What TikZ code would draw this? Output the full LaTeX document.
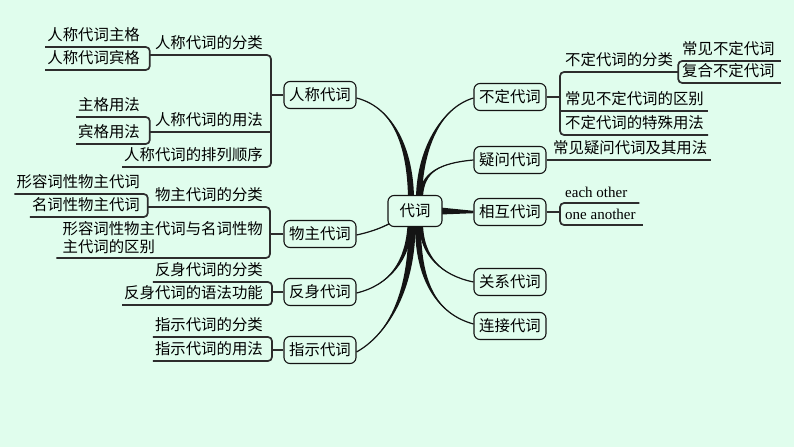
\documentclass[tikz,border=0pt]{standalone}
\usepackage{fontspec}
\setmainfont{Liberation Serif}
\newfontfamily\cjk{Noto Sans CJK SC}
\usetikzlibrary{calc}
\definecolor{bgc}{RGB}{224,253,237}
\definecolor{linec}{RGB}{20,20,20}
\definecolor{brc}{RGB}{45,45,45}
\pgfdeclarelayer{back}\pgfdeclarelayer{mid}\pgfsetlayers{back,mid,main}
\newcommand\tcurve[5]{%
  \fill[linec] #1 .. controls #2 and ($#3+#5$) .. ($#4+#5$) -- ($#4-#5$) .. controls ($#3-#5$) and #2 .. #1 -- cycle;
  \draw[linec, line width=1.2pt] #1 .. controls #2 and #3 .. #4;
}
\begin{document}
\begin{tikzpicture}[x=1pt,y=-1pt,
  topic/.style={draw=linec, line width=1.1pt, rounded corners=6pt, fill=bgc, minimum width=72pt, minimum height=27pt, inner sep=0pt, font=\cjk\fontsize{15.4}{18}\selectfont},
  lbl/.style={inner xsep=2pt, inner ysep=4pt, text height=11pt, text depth=2pt, font=\cjk\fontsize{15.4}{18}\selectfont},
  lblm/.style={inner xsep=2pt, inner ysep=4pt, align=left, font=\cjk\fontsize{15.4}{18}\selectfont},
  en/.style={inner xsep=2pt, inner ysep=3pt, text height=10pt, text depth=2pt, font=\fontsize{15}{18}\selectfont},
  br/.style={draw=brc, line width=1.7pt, rounded corners=4pt},
]
\useasboundingbox (0,0) rectangle (794,447);
\begin{pgfonlayer}{back}
\fill[bgc] (0,0) rectangle (794,447);
\end{pgfonlayer}

% main topics
\node[topic, minimum width=54pt, minimum height=31pt] (C) at (415,211) {代词};
\node[topic] (P1) at (320,95) {人称代词};
\node[topic] (P2) at (320,234) {物主代词};
\node[topic] (P3) at (320,292) {反身代词};
\node[topic] (P4) at (320,350) {指示代词};
\node[topic] (R1) at (510,97) {不定代词};
\node[topic] (R2) at (510,160) {疑问代词};
\node[topic] (R3) at (510,212) {相互代词};
\node[topic] (R4) at (510,282) {关系代词};
\node[topic] (R5) at (510,326) {连接代词};

% ---- 人称代词
\node[lbl, anchor=south east] (c11) at (265,55) {人称代词的分类};
\node[lbl, anchor=south east] (c12) at (265,132) {人称代词的用法};
\node[lbl, anchor=south east] (c13) at (265,167) {人称代词的排列顺序};
\node[lbl, anchor=south east] (g111) at (142,47) {人称代词主格};
\node[lbl, anchor=south east] (g112) at (142,70) {人称代词宾格};
\node[lbl, anchor=south east] (g121) at (142,117) {主格用法};
\node[lbl, anchor=south east] (g122) at (142,144) {宾格用法};
\coordinate (b1) at (271,0);
\coordinate (b11) at ($(c11.south west)+(-3,0)$);
\coordinate (b12) at ($(c12.south west)+(-3,0)$);
\draw[br] (b11) -- (b11 -| b1) -- (c13.south west -| b1) -- (c13.south west);
\draw[br] (b12) -- (b12 -| b1);
\draw[br] (P1.west) -- (P1.west -| b1);
\draw[br] (g111.south west) -- (g111.south west -| b11) -- (g112.south west -| b11) -- (g112.south west);
\draw[br] (g121.south west) -- (g121.south west -| b12) -- (g122.south west -| b12) -- (g122.south west);

% ---- 物主代词
\node[lbl, anchor=south east] (c21) at (265,207) {物主代词的分类};
\node[lblm, anchor=south east] (c22) at (265,258) {形容词性物主代词与名词性物\\主代词的区别};
\node[lbl, anchor=south east] (g211) at (142,194) {形容词性物主代词};
\node[lbl, anchor=south east] (g212) at (142,217) {名词性物主代词};
\coordinate (b2) at (270,0);
\coordinate (b21) at ($(c21.south west)+(-5,0)$);
\draw[br] (b21) -- (b21 -| b2) -- (c22.south west -| b2) -- ($(c22.south west)+(-4,0)$);
\draw[br] (P2.west) -- (P2.west -| b2);
\draw[br] (g211.south west) -- (g211.south west -| b21) -- (g212.south west -| b21) -- (g212.south west);

% ---- 反身代词
\node[lbl, anchor=south east] (c31) at (265,282) {反身代词的分类};
\node[lbl, anchor=south east] (c32) at (265,305) {反身代词的语法功能};
\coordinate (b3) at (272,0);
\draw[br] (c31.south west) -- (c31.south west -| b3) -- (c32.south west -| b3) -- (c32.south west);
\draw[br] (P3.west) -- (P3.west -| b3);

% ---- 指示代词
\node[lbl, anchor=south east] (c41) at (265,337) {指示代词的分类};
\node[lbl, anchor=south east] (c42) at (265,361) {指示代词的用法};
\draw[br] (c41.south west) -- (c41.south west -| b3) -- (c42.south west -| b3) -- (c42.south west);
\draw[br] (P4.west) -- (P4.west -| b3);

% ---- 不定代词
\node[lbl, anchor=south west] (d11) at (563,72) {不定代词的分类};
\node[lbl, anchor=south west] (d12) at (563,111) {常见不定代词的区别};
\node[lbl, anchor=south west] (d13) at (563,135) {不定代词的特殊用法};
\node[lbl, anchor=south west] (e111) at (680,61) {常见不定代词};
\node[lbl, anchor=south west] (e112) at (680,83) {复合不定代词};
\coordinate (r1) at (560,0);
\coordinate (r11) at ($(d11.south east)+(3,0)$);
\draw[br] (r11) -- (r11 -| r1) -- (d13.south east -| r1) -- ($(d13.south east)+(2,0)$);
\draw[br] (d12.south west -| r1) -- ($(d12.south east)+(2,0)$);
\draw[br] (R1.east) -- (R1.east -| r1);
\draw[br] ($(e111.south east)+(4,0)$) -- (e111.south east -| r11) -- (e112.south east -| r11) -- ($(e112.south east)+(4,0)$);

% ---- 疑问代词
\node[lbl, anchor=south west] (d21) at (551,160) {常见疑问代词及其用法};
\draw[br] (R2.east) -- ($(d21.south east)+(2,0)$);

% ---- 相互代词
\node[en, anchor=south west] (d31) at (563,203) {each other};
\node[en, anchor=south west] (d32) at (563,225) {one another};
\draw[br] ($(d31.south east)+(10,0)$) -- (d31.south west -| r1) -- (d32.south west -| r1) -- ($(d32.south east)+(5,0)$);
\draw[br] (R3.east) -- (R3.east -| r1);

% ---- main tapered connectors
\coordinate (s1) at ($(P1.east)+(0,3)$);  \coordinate (t1) at ($(C.north)+(-4,2)$);
\coordinate (s2) at ($(R1.west)+(0,1)$);  \coordinate (t2) at ($(C.north)+(4,2)$);
\coordinate (s3) at (R2.west);            \coordinate (t3) at ($(C.north)+(6,2)$);
\coordinate (s5) at ($(P2.east)+(0,1)$);  \coordinate (t5) at ($(C.south west)+(3,-4)$);
\coordinate (s6) at ($(P3.east)+(0,1)$);  \coordinate (t6) at ($(C.south)+(-5,-2)$);
\coordinate (s7) at ($(P4.east)+(0,2)$);  \coordinate (t7) at ($(C.south)+(-3,-2)$);
\coordinate (s8) at (R4.west);            \coordinate (t8) at ($(C.south)+(6,-2)$);
\coordinate (s9) at ($(R5.west)+(0,-2)$); \coordinate (t9) at ($(C.south)+(3,-2)$);
\begin{pgfonlayer}{mid}
\tcurve{(s1)}{(395,108)}{(410,150)}{(t1)}{(3,0)}
\tcurve{(s2)}{(440,108)}{(420,150)}{(t2)}{(3,0)}
\tcurve{(s3)}{(440,163)}{(422,172)}{(t3)}{(2,0)}
\tcurve{(s5)}{(375,231)}{(385,226)}{(t5)}{(1,0)}
\tcurve{(s6)}{(390,285)}{(408,260)}{(t6)}{(2.5,0)}
\tcurve{(s7)}{(395,330)}{(412,280)}{(t7)}{(3.5,0)}
\tcurve{(s8)}{(440,275)}{(422,255)}{(t8)}{(2,0)}
\tcurve{(s9)}{(430,312)}{(418,270)}{(t9)}{(3,0)}
\fill[linec] ($(C.east)+(-2,-3.5)$) -- ($(R3.west)+(0,-1.2)$) -- ($(R3.west)+(0,1.2)$) -- ($(C.east)+(-2,3.5)$) -- cycle;
\end{pgfonlayer}
\end{tikzpicture}
\end{document}
